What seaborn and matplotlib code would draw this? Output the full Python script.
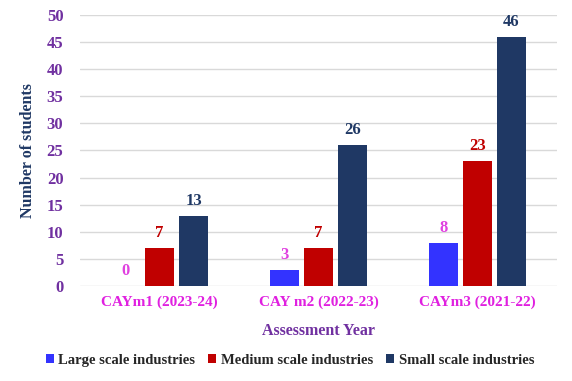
import pandas as pd
import matplotlib.pyplot as plt
import seaborn as sns

# Chart data
years = ["CAYm1 (2023-24)", "CAY m2 (2022-23)", "CAYm3 (2021-22)"]
large = [0, 3, 8]
medium = [7, 7, 23]
small = [13, 26, 46]
series = ["Large scale industries", "Medium scale industries", "Small scale industries"]

colors = ["#3333FF", "#C00000", "#1F3864"]
label_colors = ["#E040E0", "#C00000", "#1F3864"]

df = pd.DataFrame({
    "year": years * 3,
    "industry": [series[0]] * 3 + [series[1]] * 3 + [series[2]] * 3,
    "students": large + medium + small,
})

sns.set_style("white")
plt.rcParams["font.family"] = ["Liberation Serif", "DejaVu Serif"]
plt.rcParams["font.weight"] = "bold"

fig = plt.figure(figsize=(5.72, 3.81), dpi=100)
ax = fig.add_axes([0.14, 0.249, 0.834, 0.712])

sns.barplot(data=df, x="year", y="students", hue="industry", order=years,
            hue_order=series, palette=colors, width=0.64, gap=0.15,
            saturation=1, linewidth=0, ax=ax, zorder=3)

# Value labels
for cont, col in zip(ax.containers, label_colors):
    ax.bar_label(cont, padding=5, color=col, fontsize=12, fontweight="bold")

ax.set_ylim(0, 50)
ax.set_yticks(range(0, 51, 5))
ax.yaxis.grid(True, color="#D9D9D9", linewidth=1, zorder=0)
ax.set_axisbelow(True)
for s in ax.spines.values():
    s.set_visible(False)
ax.tick_params(axis="both", length=0)
ax.tick_params(axis="y", labelcolor="#7030A0", labelsize=12, pad=12)
ax.tick_params(axis="x", labelcolor="#E020E0", labelsize=11, pad=7)
for t in ax.get_xticklabels() + ax.get_yticklabels():
    t.set_fontweight("bold")

ax.set_xlabel("Assessment Year", color="#7030A0", fontsize=11.5,
              fontweight="bold", labelpad=10)
ax.set_ylabel("Number of students", color="#1F3864", fontsize=11.5,
              fontweight="bold", labelpad=8)

handles, labels = ax.get_legend_handles_labels()
ax.get_legend().remove()
fig.legend(handles, labels, loc="center", bbox_to_anchor=(0.507, 0.055), ncol=3,
           frameon=False, handlelength=0.55, handleheight=0.55,
           handletextpad=0.3, columnspacing=0.9, prop={"weight": "bold", "size": 10.5})

fig.savefig("out.png", dpi=100)
